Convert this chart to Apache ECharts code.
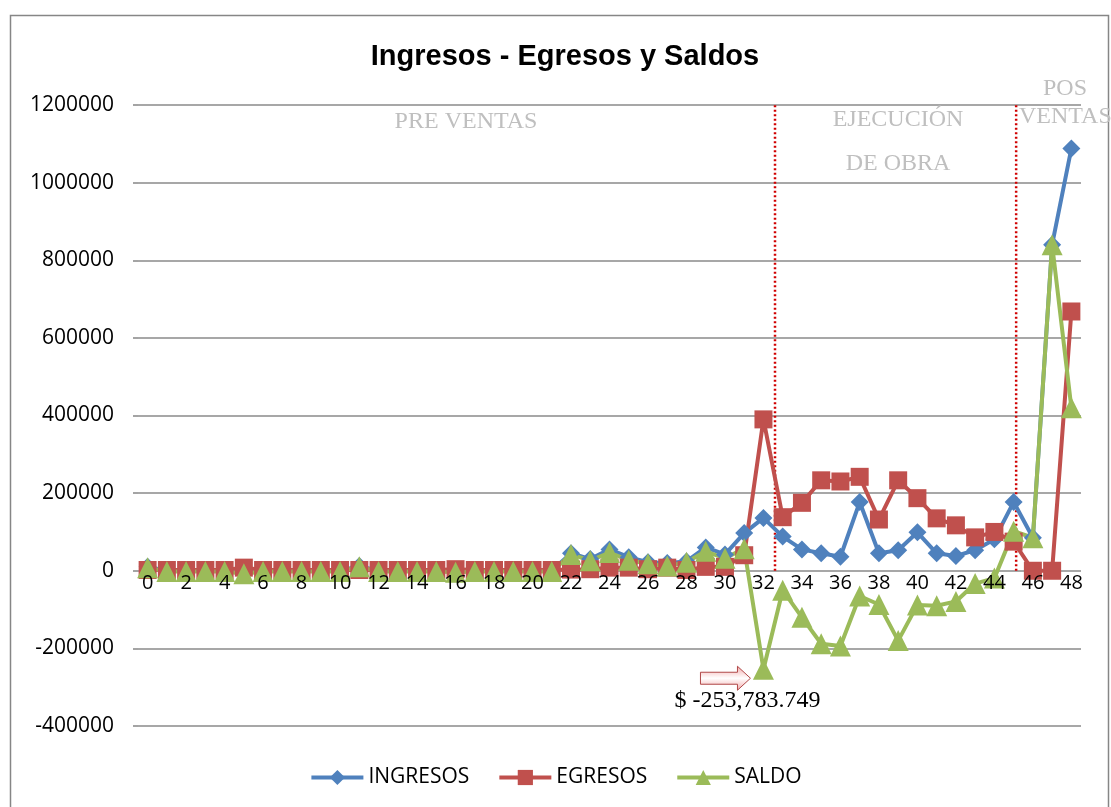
<!DOCTYPE html>
<html>
<head>
<meta charset="utf-8">
<script src="https://cdn.jsdelivr.net/npm/echarts@6/dist/echarts.min.js"></script>
<style>
  html, body { margin: 0; padding: 0; background: #ffffff; }
  #chart { width: 1111px; height: 807px; }
</style>
</head>
<body>
<div id="chart"></div>
<script>
// Monthly periods 0..48
const categories = ['0','1','2','3','4','5','6','7','8','9','10','11','12','13','14','15','16','17','18','19','20','21','22','23','24','25','26','27','28','29','30','31','32','33','34','35','36','37','38','39','40','41','42','43','44','45','46','47','48'];

const ingresos = [10000,0,0,0,0,0,0,0,0,0,0,12000,0,0,0,0,0,0,0,0,0,0,
  45000,30000,55000,35000,22000,20000,24000,60000,42000,97000,136216,88000,55000,45000,36000,177000,45000,53000,99000,45000,38000,53000,81000,177000,85000,840000,1088000];

const egresos = [2000,2000,2000,2000,2000,8000,2000,2000,2000,2000,2000,2000,2000,2000,2000,2000,4000,2000,2000,2000,2000,2000,
  3000,4000,8000,8000,4000,8000,2000,10000,10000,40000,390000,138000,175000,233000,230000,242000,132000,233000,187000,135000,117000,86000,100000,75000,0,0,668000];

const saldo = [8000,-2000,-2000,-2000,-2000,-8000,-2000,-2000,-2000,-2000,-2000,10000,-2000,-2000,-2000,-2000,-4000,-2000,-2000,-2000,-2000,-2000,
  42000,26000,47000,27000,18000,12000,22000,50000,32000,57000,-253783.749,-50000,-120000,-188000,-194000,-65000,-87000,-180000,-88000,-90000,-79000,-33000,-19000,102000,85000,840000,420000];

// Phase boundaries (in period units) between pre-sales, construction and post-sales
const phaseBounds = [32.6, 45.13];

const yTicks = { min: -400000, max: 1200000, interval: 200000 };

const COLORS = { ing: '#4F81BD', egr: '#C0504D', sal: '#9BBB59' };
const SANS = '"Open Sans", "Liberation Sans", sans-serif';
const SERIF = '"Liberation Serif", "DejaVu Serif", serif';

const chart = echarts.init(document.getElementById('chart'), null, { renderer: 'canvas' });

function lineSeries(name, data, color, symbol, size) {
  return {
    name, type: 'line', data,
    symbol, symbolSize: size, showAllSymbol: true,
    lineStyle: { color, width: 4 },
    itemStyle: { color },
    emphasis: { disabled: true },
    animation: false
  };
}

const boundarySeries = phaseBounds.map(x => ({
  type: 'line', xAxisIndex: 1, silent: true, symbol: 'none',
  data: [[x, 0], [x, yTicks.max]],
  lineStyle: { color: '#D00000', width: 2.5, type: [2, 2.5] },
  animation: false, z: 1
}));

chart.setOption({
  backgroundColor: '#ffffff',
  title: {
    text: 'Ingresos - Egresos y Saldos',
    left: 560, top: 37, textAlign: 'center',
    textStyle: { fontFamily: '"Liberation Sans", sans-serif', fontWeight: 'bold', fontSize: 29, color: '#000' }
  },
  grid: { left: 138, right: 30, top: 105, bottom: 81, containLabel: false },
  legend: {
    data: ['INGRESOS', 'EGRESOS', 'SALDO'],
    bottom: 14, left: 'center',
    itemWidth: 52, itemHeight: 19, itemGap: 28,
    lineStyle: { width: 4 },
    textStyle: { fontFamily: SANS, fontSize: 21, color: '#000' }
  },
  xAxis: [{
    type: 'category', data: categories, boundaryGap: true, z: 5,
    axisLine: { show: false },
    axisTick: { show: false },
    axisLabel: { interval: 1, fontFamily: SANS, fontSize: 20, color: '#000', margin: 3 },
    splitLine: { show: false }
  }, {
    type: 'value', min: -0.5, max: 48.5, show: false,
    axisLine: { onZero: false }
  }],
  yAxis: {
    type: 'value', min: yTicks.min, max: yTicks.max, interval: yTicks.interval,
    axisLine: { show: false, onZero: false },
    axisTick: { show: true, length: 5, lineStyle: { color: '#868686', width: 1.5 } },
    axisLabel: { fontFamily: SANS, fontSize: 21, color: '#000', margin: 24, formatter: v => String(v) },
    splitLine: { lineStyle: { color: '#8a8a8a', width: 1.5 } }
  },
  series: [
    ...boundarySeries,
    lineSeries('INGRESOS', ingresos, COLORS.ing, 'diamond', 18),
    lineSeries('EGRESOS', egresos, COLORS.egr, 'rect', 18),
    lineSeries('SALDO', saldo, COLORS.sal, 'triangle', 21)
  ]
});

// Category labels sit on the zero line: shift the category axis up from the grid bottom
const zeroY = chart.convertToPixel({ yAxisIndex: 0 }, 0);
const bottomY = chart.convertToPixel({ yAxisIndex: 0 }, yTicks.min);
chart.setOption({ xAxis: [{ offset: -(bottomY - zeroY) }, {}] });

// Annotation on the lowest balance: arrow pointing at it and its value
const minVal = Math.min(...saldo);
const minIdx = saldo.indexOf(minVal);
const [px, py] = chart.convertToPixel({ xAxisIndex: 0, yAxisIndex: 0 }, [minIdx, minVal]);
const fmt = '$ ' + minVal.toLocaleString('en-US', { minimumFractionDigits: 3, maximumFractionDigits: 3 });

const ax = px - 63, ay = py + 9;
chart.setOption({
  graphic: [
    { type: 'rect', left: 8, top: 13, shape: { width: 1098, height: 810 },
      style: { fill: 'none', stroke: '#868686', lineWidth: 1.5 }, silent: true, z: 0 },
    { type: 'text', x: 466, y: 122, style: { text: 'PRE VENTAS', font: '24px ' + SERIF, fill: '#BFBFBF', align: 'center', verticalAlign: 'middle' } },
    { type: 'text', x: 898, y: 120, style: { text: 'EJECUCIÓN', font: '24px ' + SERIF, fill: '#BFBFBF', align: 'center', verticalAlign: 'middle' } },
    { type: 'text', x: 898, y: 164, style: { text: 'DE OBRA', font: '24px ' + SERIF, fill: '#BFBFBF', align: 'center', verticalAlign: 'middle' } },
    { type: 'text', x: 1065, y: 89, style: { text: 'POS', font: '24px ' + SERIF, fill: '#BFBFBF', align: 'center', verticalAlign: 'middle' } },
    { type: 'text', x: 1019, y: 117, style: { text: 'VENTAS', font: '24px ' + SERIF, fill: '#BFBFBF', align: 'left', verticalAlign: 'middle' } },
    { type: 'polygon', silent: true, z: 10,
      shape: { points: [
        [ax, ay - 6], [ax + 37, ay - 6], [ax + 37, ay - 12], [ax + 50, ay],
        [ax + 37, ay + 12], [ax + 37, ay + 6], [ax, ay + 6]
      ] },
      style: {
        fill: new echarts.graphic.LinearGradient(0, 0, 0, 1, [
          { offset: 0, color: '#F2A8A8' }, { offset: 0.5, color: '#FFFFFF' }, { offset: 1, color: '#F2A8A8' }
        ]),
        stroke: '#B04848', lineWidth: 1
      } },
    { type: 'text', x: px - 16, y: py + 31, z: 10,
      style: { text: fmt, font: '24px ' + SERIF, fill: '#000', align: 'center', verticalAlign: 'middle' } }
  ]
});
</script>
</body>
</html>
